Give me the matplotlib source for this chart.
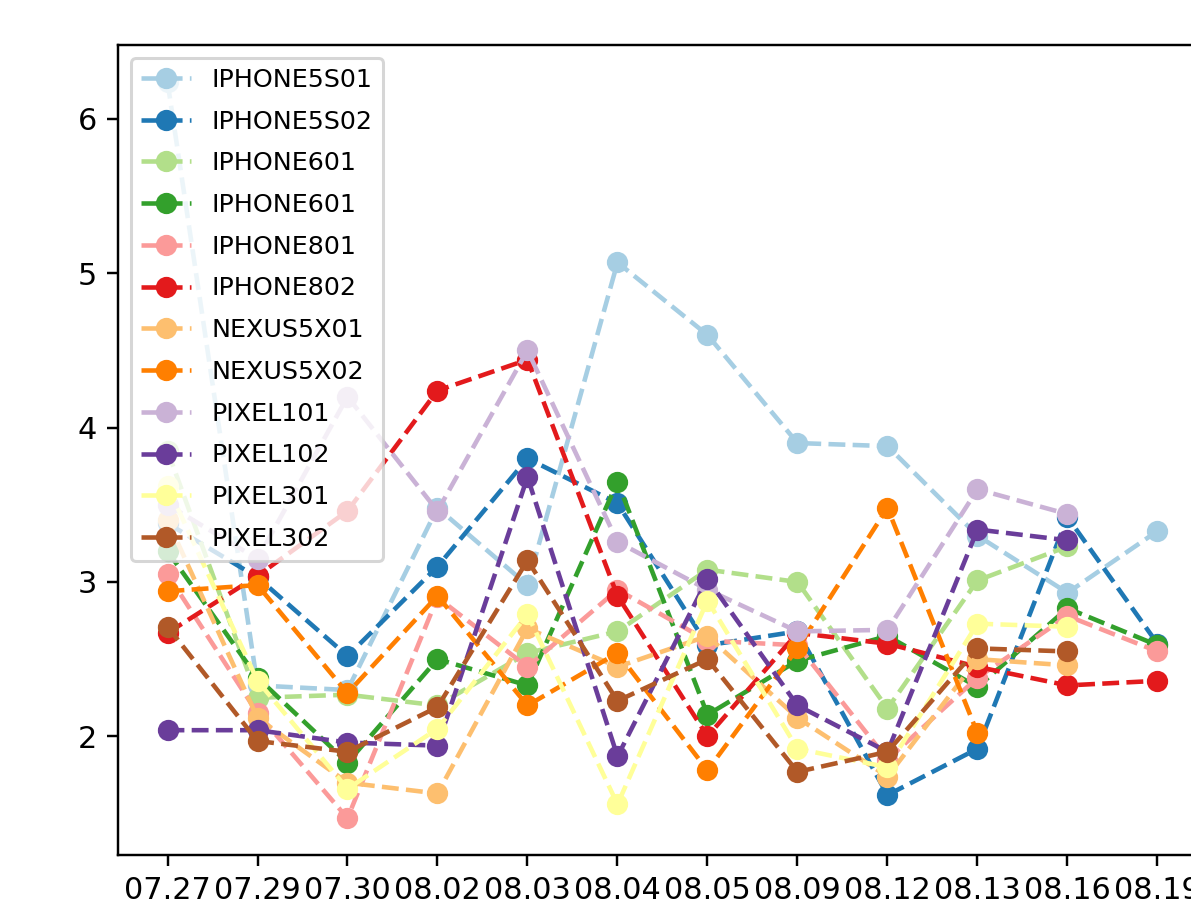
import numpy as np
import matplotlib
matplotlib.use("Agg")
import matplotlib.pyplot as plt

nan = np.nan

dates = ["07.27", "07.29", "07.30", "08.02", "08.03", "08.04",
         "08.05", "08.09", "08.12", "08.13", "08.16", "08.19"]

devices = ["IPHONE5S01", "IPHONE5S02", "IPHONE601", "IPHONE601",
           "IPHONE801", "IPHONE802", "NEXUS5X01", "NEXUS5X02",
           "PIXEL101", "PIXEL102", "PIXEL301", "PIXEL302"]

# valeurs (estimées)
iphone5s01 = [6.24, 2.33, 2.30, 3.48, 2.98, 5.07, 4.60, 3.90, 3.88, 3.30, 2.93, 3.33]
iphone5s02 = [3.38, 3.03, 2.52, 3.10, 3.80, 3.51, 2.59, 2.68, 1.62, 1.92, 3.42, 2.60]
iphone601a = [3.85, 2.25, 2.27, 2.20, 2.54, 2.68, 3.08, 3.00, 2.18, 3.01, 3.23, nan]
iphone601b = [3.20, 2.38, 1.83, 2.50, 2.33, 3.65, 2.14, 2.49, 2.65, 2.32, 2.83, 2.59]
iphone801 = [3.05, 2.15, 1.47, 2.90, 2.45, 2.95, 2.62, 2.59, 1.85, 2.38, 2.78, 2.55]
iphone802 = [2.67, 3.04, 3.46, 4.24, 4.44, 2.91, 2.00, 2.67, 2.60, 2.45, 2.33, 2.36]
nexus5x01 = [3.40, 2.12, 1.70, 1.63, 2.70, 2.45, 2.65, 2.12, 1.74, 2.50, 2.46, nan]
nexus5x02 = [2.94, 2.98, 2.28, 2.91, 2.20, 2.54, 1.78, 2.57, 3.48, 2.02, nan, nan]
pixel101 = [3.50, 3.15, 4.20, 3.46, 4.50, 3.26, 2.95, 2.68, 2.69, 3.60, 3.44, nan]
pixel102 = [2.04, 2.04, 1.96, 1.94, 3.68, 1.87, 3.02, 2.20, 1.90, 3.34, 3.27, nan]
pixel301 = [3.62, 2.36, 1.66, 2.05, 2.79, 1.56, 2.88, 1.92, 1.80, 2.73, 2.71, nan]
pixel302 = [2.71, 1.97, 1.90, 2.19, 3.14, 2.23, 2.50, 1.77, 1.90, 2.57, 2.55, nan]

series = [iphone5s01, iphone5s02, iphone601a, iphone601b, iphone801, iphone802,
          nexus5x01, nexus5x02, pixel101, pixel102, pixel301, pixel302]

dpi = 219
fig = plt.figure(figsize=(1191 / dpi, 915 / dpi), dpi=dpi)
# l'image d'origine est rognée à droite : l'axe dépasse du cadre
ax = fig.add_axes([118 / 1191, 60 / 915, 1089 / 1191, 810 / 915])

colors = plt.cm.Paired(np.arange(12))
for name, vals, c in zip(devices, series, colors):
    ax.plot(dates, vals, linestyle="--", marker="o", color=c, label=name)

ax.legend(loc="upper left", fontsize="small", labelspacing=0.7)

fig.savefig("out.png", dpi=dpi)
